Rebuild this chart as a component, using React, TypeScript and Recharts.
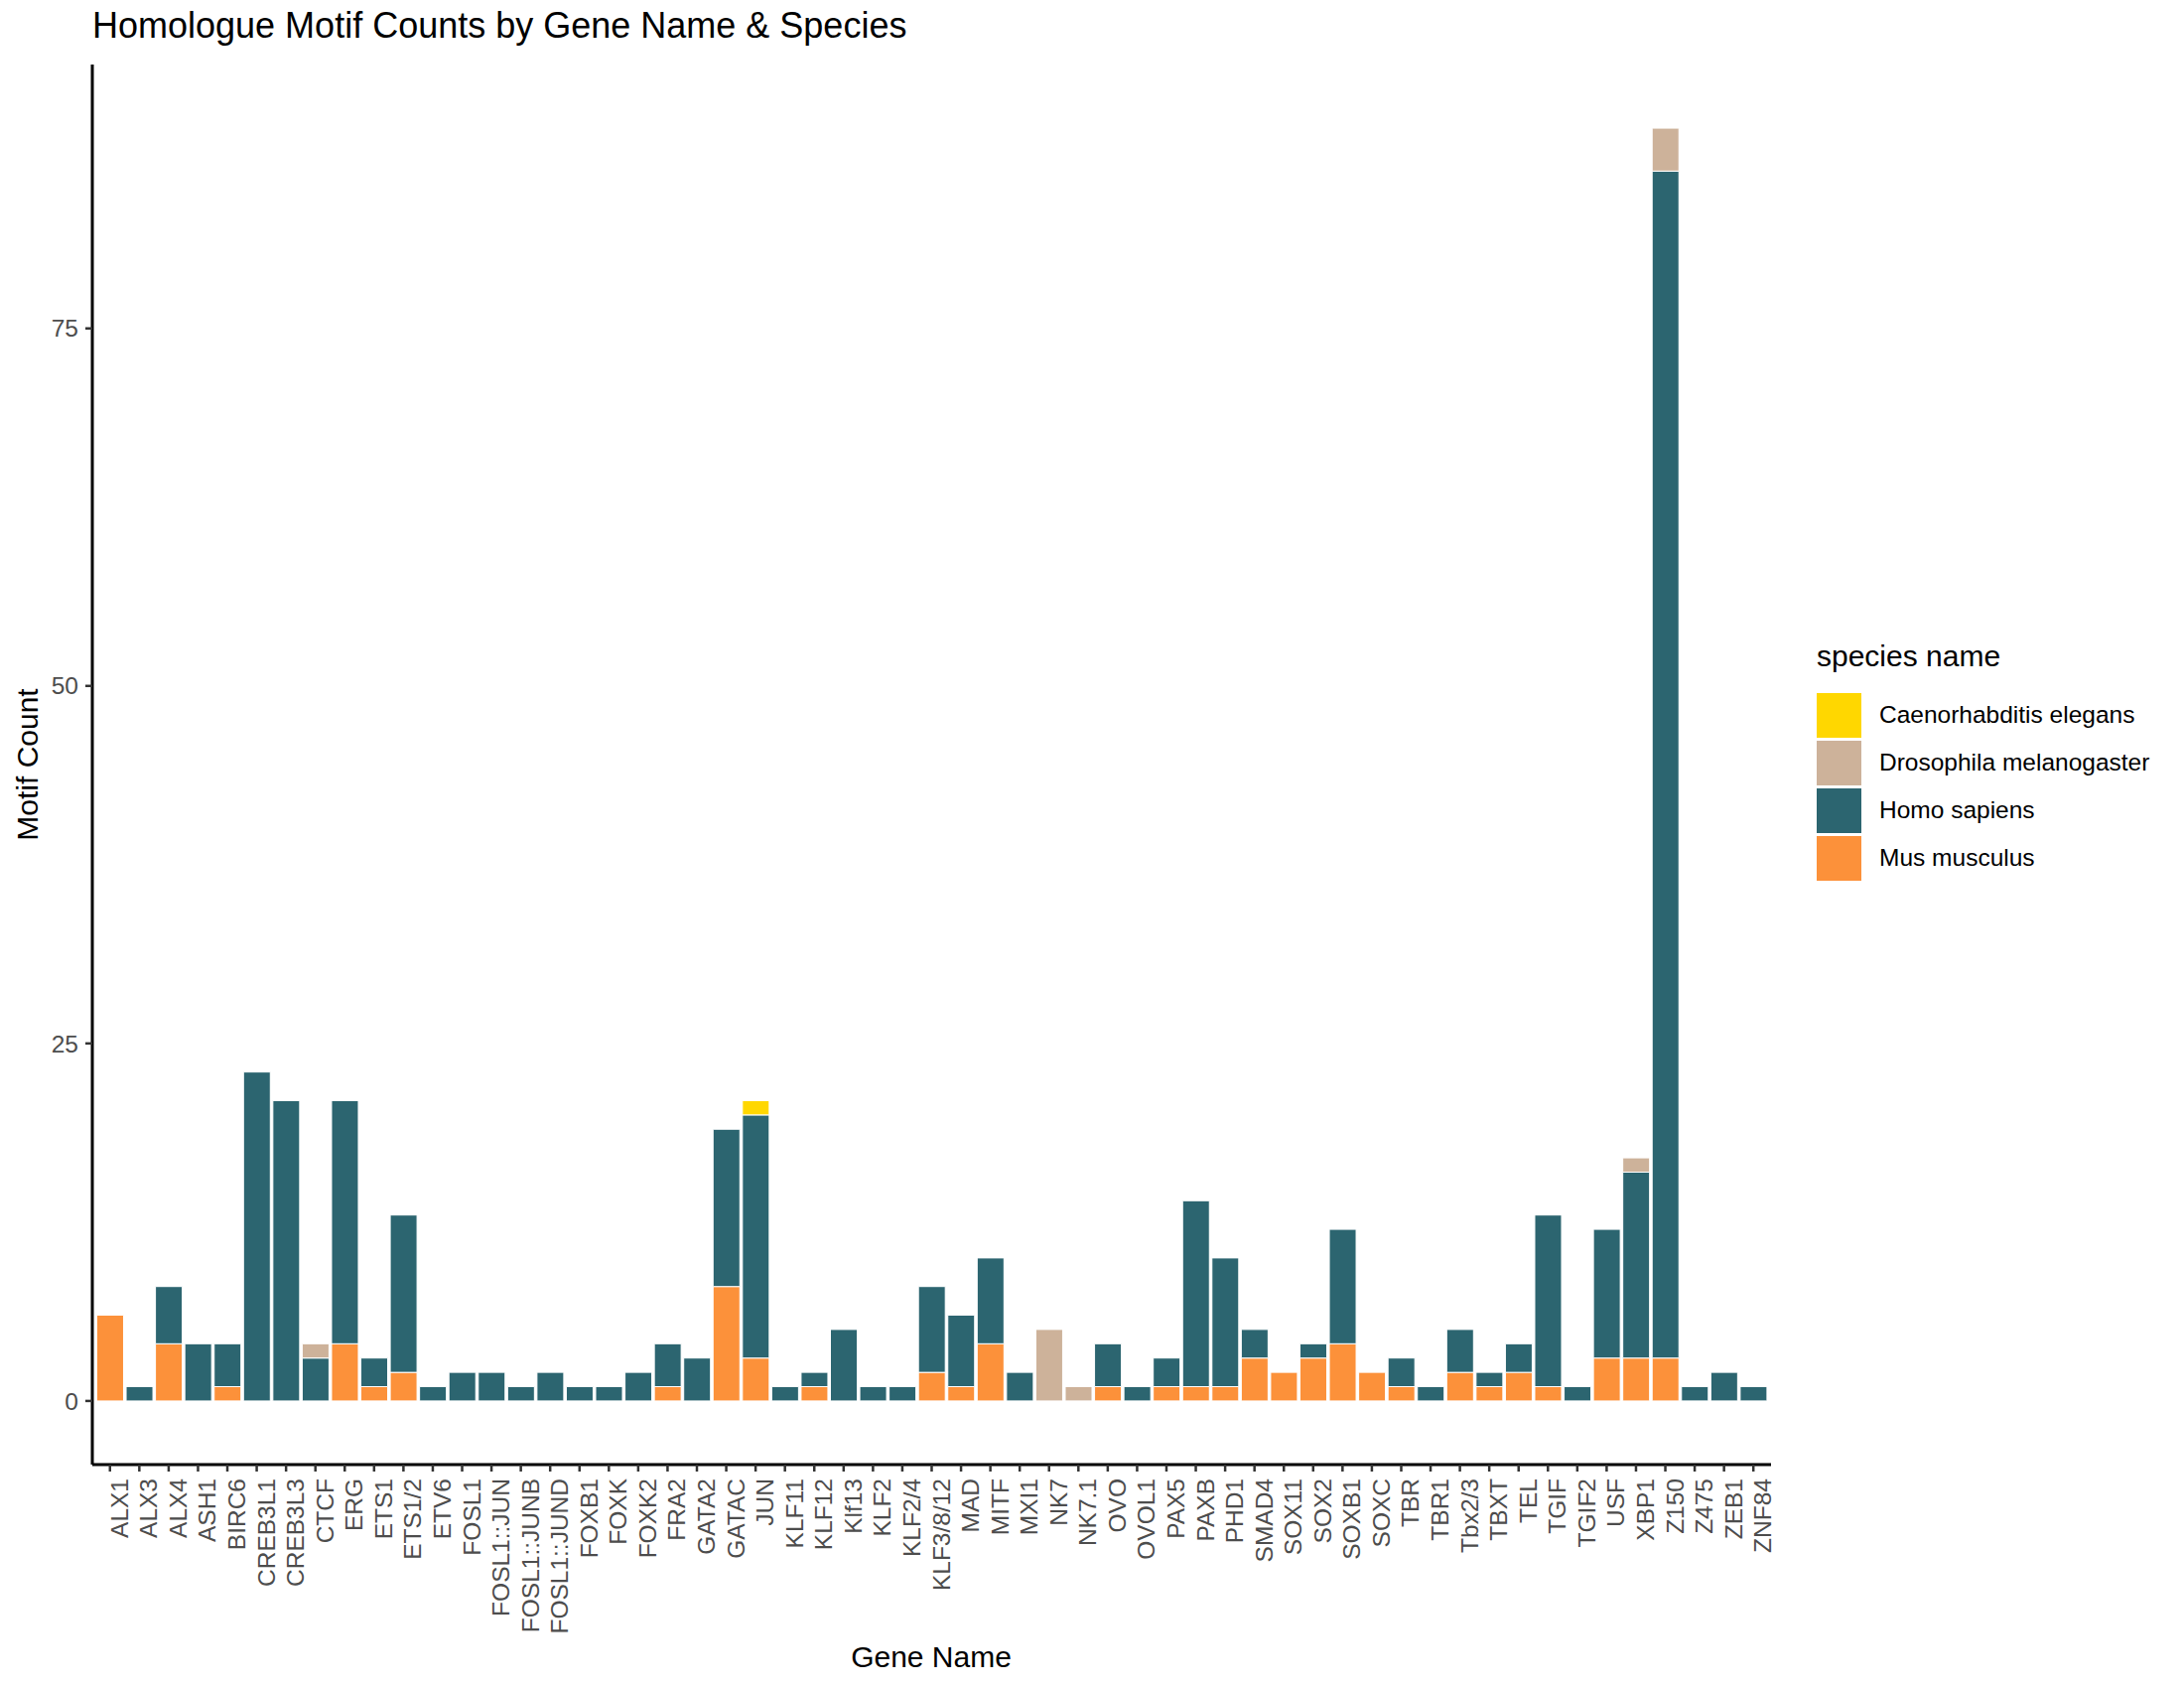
import { BarChart, Bar, XAxis, YAxis, Legend, Label } from "recharts"

const genes = [
  "ALX1", "ALX3", "ALX4", "ASH1", "BIRC6", "CREB3L1", "CREB3L3", "CTCF", "ERG", "ETS1",
  "ETS1/2", "ETV6", "FOSL1", "FOSL1::JUN", "FOSL1::JUNB", "FOSL1::JUND", "FOXB1", "FOXK", "FOXK2", "FRA2",
  "GATA2", "GATAC", "JUN", "KLF11", "KLF12", "Klf13", "KLF2", "KLF2/4", "KLF3/8/12", "MAD",
  "MITF", "MXI1", "NK7", "NK7.1", "OVO", "OVOL1", "PAX5", "PAXB", "PHD1", "SMAD4",
  "SOX11", "SOX2", "SOXB1", "SOXC", "TBR", "TBR1", "Tbx2/3", "TBXT", "TEL", "TGIF",
  "TGIF2", "USF", "XBP1", "Z150", "Z475", "ZEB1", "ZNF84",
]

const musMusculus = [
  6, 0, 4, 0, 1, 0, 0, 0, 4, 1,
  2, 0, 0, 0, 0, 0, 0, 0, 0, 1,
  0, 8, 3, 0, 1, 0, 0, 0, 2, 1,
  4, 0, 0, 0, 1, 0, 1, 1, 1, 3,
  2, 3, 4, 2, 1, 0, 2, 1, 2, 1,
  0, 3, 3, 3, 0, 0, 0,
]

const homoSapiens = [
  0, 1, 4, 4, 3, 23, 21, 3, 17, 2,
  11, 1, 2, 2, 1, 2, 1, 1, 2, 3,
  3, 11, 17, 1, 1, 5, 1, 1, 6, 5,
  6, 2, 0, 0, 3, 1, 2, 13, 9, 2,
  0, 1, 8, 0, 2, 1, 3, 1, 2, 12,
  1, 9, 13, 83, 1, 2, 1,
]

const drosophila = [
  0, 0, 0, 0, 0, 0, 0, 1, 0, 0,
  0, 0, 0, 0, 0, 0, 0, 0, 0, 0,
  0, 0, 0, 0, 0, 0, 0, 0, 0, 0,
  0, 0, 5, 1, 0, 0, 0, 0, 0, 0,
  0, 0, 0, 0, 0, 0, 0, 0, 0, 0,
  0, 0, 1, 3, 0, 0, 0,
]

const caenorhabditis = [
  0, 0, 0, 0, 0, 0, 0, 0, 0, 0,
  0, 0, 0, 0, 0, 0, 0, 0, 0, 0,
  0, 0, 1, 0, 0, 0, 0, 0, 0, 0,
  0, 0, 0, 0, 0, 0, 0, 0, 0, 0,
  0, 0, 0, 0, 0, 0, 0, 0, 0, 0,
  0, 0, 0, 0, 0, 0, 0,
]

const yTicks = [0, 25, 50, 75]

// legend order (top of stack first)
const speciesNames = [
  "Caenorhabditis elegans",
  "Drosophila melanogaster",
  "Homo sapiens",
  "Mus musculus",
]
const speciesColors = ["#FFD700", "#CDB29A", "#2C6570", "#FC913A"]

const data = genes.map((gene, i) => ({
  gene,
  mus: musMusculus[i],
  homo: homoSapiens[i],
  dros: drosophila[i],
  cel: caenorhabditis[i],
}))

const FONT = '"Liberation Sans", Arial, Helvetica, sans-serif'
const TICK_COLOR = "#4D4D4D"
const TICK_SIZE = 24.5

function GeneTick({ x, y, payload }: any) {
  // rotated so the label reads upward, ending just under the tick mark
  return (
    <text
      x={x}
      y={y}
      dy={18}
      transform={`rotate(-90 ${x} ${y})`}
      textAnchor="end"
      fontSize={TICK_SIZE}
      fontFamily={FONT}
      fill={TICK_COLOR}
    >
      {payload.value}
    </text>
  )
}

function SpeciesLegend() {
  return (
    <div style={{ fontFamily: FONT, color: "#000" }}>
      <div style={{ fontSize: 30, lineHeight: "30px", height: 50, paddingTop: 6 }}>
        species name
      </div>
      {speciesNames.map((name, i) => (
        <div
          key={name}
          style={{ display: "flex", alignItems: "center", height: 48 }}
        >
          <div
            style={{
              width: 45,
              height: 45,
              background: speciesColors[i],
              marginRight: 18,
            }}
          />
          <span style={{ fontSize: 24.5 }}>{name}</span>
        </div>
      ))}
    </div>
  )
}

export default function App() {
  return (
    <div style={{ position: "absolute", left: 0, top: 0, width: 2200, height: 1700, background: "#fff" }}>
      <div
        style={{
          position: "absolute",
          left: 93,
          top: 8,
          fontFamily: FONT,
          fontSize: 36,
          lineHeight: 1,
          color: "#000",
          whiteSpace: "nowrap",
        }}
      >
        Homologue Motif Counts by Gene Name &amp; Species
      </div>
      <BarChart
        width={2200}
        height={1700}
        data={data}
        margin={{ top: 65, right: 416, bottom: 0, left: 0 }}
        barCategoryGap="5%"
      >
        <XAxis
          dataKey="gene"
          interval={0}
          height={225}
          padding={{ left: 3, right: 3 }}
          tick={<GeneTick />}
          tickSize={7}
          tickMargin={7}
          tickLine={{ stroke: "#333333", strokeWidth: 2.5 }}
          axisLine={{ stroke: "#000", strokeWidth: 3 }}
        >
          <Label
            content={() => (
              <text
                x={938}
                y={1668}
                textAnchor="middle"
                dominantBaseline="central"
                fontSize={30}
                fontFamily={FONT}
                fill="#000"
              >
                Gene Name
              </text>
            )}
          />
        </XAxis>
        <YAxis
          width={93}
          type="number"
          domain={[-4.45, 93.45]}
          allowDataOverflow
          ticks={yTicks}
          tickSize={7}
          tickMargin={7}
          tick={{ fontSize: TICK_SIZE, fill: TICK_COLOR, fontFamily: FONT }}
          tickLine={{ stroke: "#333333", strokeWidth: 2.5 }}
          axisLine={{ stroke: "#000", strokeWidth: 3 }}
        >
          <Label
            content={() => (
              <text
                x={27}
                y={770}
                transform="rotate(-90 27 770)"
                textAnchor="middle"
                dominantBaseline="central"
                fontSize={30}
                fontFamily={FONT}
                fill="#000"
              >
                Motif Count
              </text>
            )}
          />
        </YAxis>
        <Legend
          layout="horizontal"
          verticalAlign="middle"
          align="center"
          content={() => <SpeciesLegend />}
          wrapperStyle={{ left: 1830, top: 640, width: 360, height: 260 }}
        />
        <Bar dataKey="mus" name="Mus musculus" stackId="s" fill="#FC913A" stroke="#fff" strokeWidth={1} isAnimationActive={false} />
        <Bar dataKey="homo" name="Homo sapiens" stackId="s" fill="#2C6570" stroke="#fff" strokeWidth={1} isAnimationActive={false} />
        <Bar dataKey="dros" name="Drosophila melanogaster" stackId="s" fill="#CDB29A" stroke="#fff" strokeWidth={1} isAnimationActive={false} />
        <Bar dataKey="cel" name="Caenorhabditis elegans" stackId="s" fill="#FFD700" stroke="#fff" strokeWidth={1} isAnimationActive={false} />
      </BarChart>
    </div>
  )
}
